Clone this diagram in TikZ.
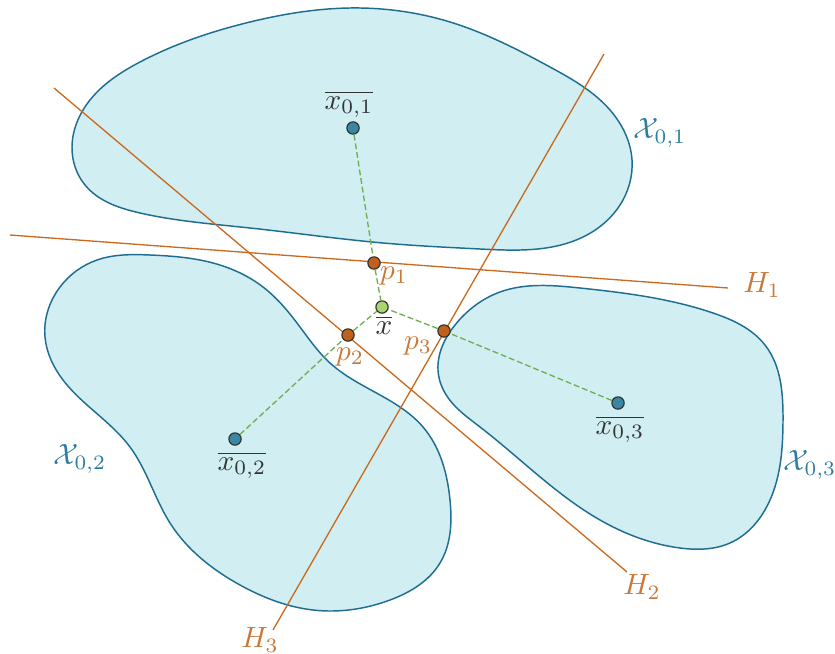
\documentclass[tikz,border=0pt]{standalone}
\usetikzlibrary{calc,hobby}
\definecolor{blobfill}{HTML}{D1EEF2}
\definecolor{blobline}{HTML}{1F6E91}
\definecolor{hline}{HTML}{C96A1E}
\definecolor{hlabel}{HTML}{C87838}
\definecolor{xlabel}{HTML}{2E7D9F}
\definecolor{cdot}{HTML}{3A87A3}
\definecolor{pdot}{HTML}{C0601A}
\definecolor{xbdot}{HTML}{A9D56E}
\definecolor{gdash}{HTML}{6DAF52}
\definecolor{txt}{HTML}{333333}
\tikzset{
  blob/.style={draw=blobline, fill=blobfill, line width=0.5pt},
  hyper/.style={draw=hline, line width=0.45pt},
  dotc/.style={circle, draw=black!80, fill=cdot, line width=0.4pt, inner sep=0pt, minimum size=4.2pt},
  dotp/.style={circle, draw=black!80, fill=pdot, line width=0.4pt, inner sep=0pt, minimum size=4.2pt},
  dotx/.style={circle, draw=black!80, fill=xbdot, line width=0.4pt, inner sep=0pt, minimum size=4.2pt},
  proj/.style={draw=gdash, dashed, dash pattern=on 2pt off 1pt, line width=0.45pt},
  hlab/.style={text=hlabel, inner sep=1pt},
  xlab/.style={text=xlabel, inner sep=1pt},
  plab/.style={text=txt, inner sep=1pt},
}
\begin{document}
\begin{tikzpicture}[x=0.012cm, y=-0.012cm]
\useasboundingbox (0,0) rectangle (835,653);
% blobs
\draw[blob, closed hobby] plot coordinates {
  (72,147) (90,100) (140,62) (250,22) (350,8) (450,22) (550,67) (610,110) (632,160)
  (620,205) (583,237) (480,249) (383,243) (250,228) (140,213) (85,185)};
\draw[blob, closed hobby] plot coordinates {
  (45,337) (60,287) (97,260) (150,255) (213,263) (263,287) (297,323) (330,363)
  (423,427) (450,500) (440,563) (390,600) (313,610) (240,585) (170,523) (130,447) (63,380)};
\draw[blob, closed hobby] plot coordinates {
  (438,370) (455,325) (500,292) (580,288) (713,313) (765,345) (783,420) (770,500)
  (730,543) (680,548) (600,520) (480,427) (445,393)};
% hyperplanes
\coordinate (h1a) at (10,235);  \coordinate (h1b) at (728,288);
\coordinate (h2a) at (54,88);   \coordinate (h2b) at (627,572);
\coordinate (h3a) at (604,54);  \coordinate (h3b) at (273,630);
\draw[hyper] (h1a) -- (h1b);
\draw[hyper] (h2a) -- (h2b);
\draw[hyper] (h3a) -- (h3b);
\node[hlab] (H1) at (762,285) {$H_1$};
\node[hlab] (H2) at (642,587) {$H_2$};
\node[hlab] (H3) at (260,640) {$H_3$};
% points
\node[dotc] (x1) at (353,128) {};
\node[dotc] (x2) at (235,439) {};
\node[dotc] (x3) at (618,403) {};
\node[dotp] (p1) at (374,263) {};
\node[dotp] (p2) at (348,335) {};
\node[dotp] (p3) at (444,331) {};
\node[dotx] (xb) at (382,307) {};
% projections
\draw[proj] (x1) -- (p1) -- (xb);
\draw[proj] (x2) -- (p2) -- (xb);
\draw[proj] (x3) -- (p3) -- (xb);
% labels
\node[plab] (lx1) at (349,104) {$\overline{x_{0,1}}$};
\node[plab] (lx2) at (242,465) {$\overline{x_{0,2}}$};
\node[plab] (lx3) at (620,429) {$\overline{x_{0,3}}$};
\node[plab] (lxb) at (384,325) {$\overline{x}$};
\node[hlab] (lp1) at (394,276) {$p_1$};
\node[hlab] (lp2) at (350,357) {$p_2$};
\node[hlab] (lp3) at (418,346) {$p_3$};
\node[xlab] (X1) at (660,133) {$\mathcal{X}_{0,1}$};
\node[xlab] (X2) at (80,459) {$\mathcal{X}_{0,2}$};
\node[xlab] (X3) at (810,465) {$\mathcal{X}_{0,3}$};
\end{tikzpicture}
\end{document}
